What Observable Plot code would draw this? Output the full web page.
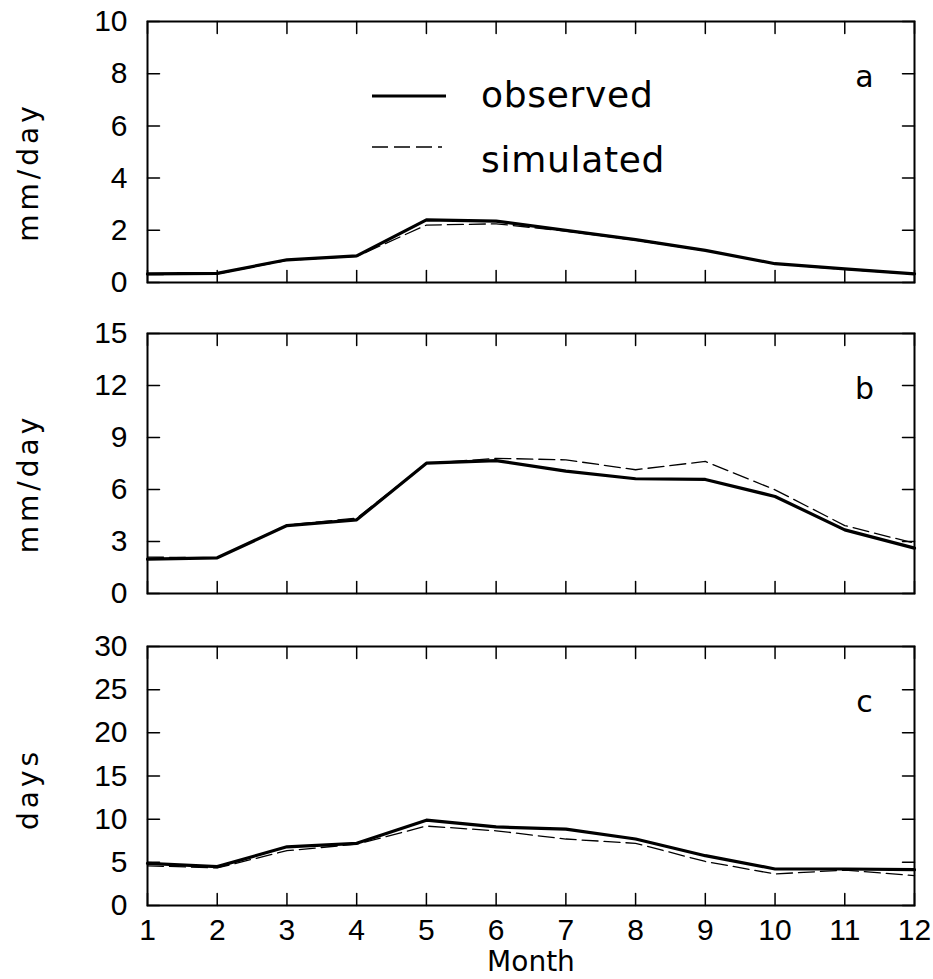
<!DOCTYPE html>
<html>
<head>
<meta charset="utf-8">
<script src="https://cdn.jsdelivr.net/npm/d3@7"></script>
<script src="https://cdn.jsdelivr.net/npm/@observablehq/plot@0.6"></script>
<style>
  html, body { margin: 0; padding: 0; background: #fff; }
  #chart { position: relative; width: 933px; height: 979px; background: #fff; }
  #chart > .panel { position: absolute; left: 0; }
  g[aria-label="y-axis tick label"] text, g[aria-label="x-axis tick label"] text { font-family: "Liberation Sans", Arial, sans-serif; }
</style>
</head>
<body>
<div id="chart"></div>
<script>
// ---- data ----
const months = [1, 2, 3, 4, 5, 6, 7, 8, 9, 10, 11, 12];
const seriesNames = ["observed", "simulated"];

const aObserved  = [0.33, 0.35, 0.87, 1.02, 2.40, 2.35, 2.00, 1.64, 1.23, 0.72, 0.52, 0.33];
const aSimulated = [0.30, 0.33, 0.85, 1.00, 2.20, 2.25, 1.97, 1.62, 1.22, 0.72, 0.50, 0.32];

const bObserved  = [1.98, 2.06, 3.92, 4.25, 7.52, 7.67, 7.06, 6.62, 6.58, 5.60, 3.67, 2.62];
const bSimulated = [2.10, 2.06, 3.95, 4.35, 7.50, 7.80, 7.71, 7.14, 7.62, 5.98, 3.92, 2.90];

const cObserved  = [4.88, 4.50, 6.80, 7.20, 9.88, 9.10, 8.85, 7.70, 5.77, 4.23, 4.23, 4.15];
const cSimulated = [4.60, 4.35, 6.35, 7.10, 9.20, 8.65, 7.70, 7.20, 5.10, 3.65, 4.10, 3.46];

const aTicks = [0, 2, 4, 6, 8, 10];
const bTicks = [0, 3, 6, 9, 12, 15];
const cTicks = [0, 5, 10, 15, 20, 25, 30];

const panelLetters = ["a", "b", "c"];
const yLabels = ["mm/day", "mm/day", "days"];
const xLabel = "Month";

// ---- drawing ----
const FONT = "DejaVu Sans, sans-serif";
const TICK = 12;
const tickShape = {draw(context, l) { context.moveTo(0, 0); context.lineTo(0, -l); }};

function inwardTicks(values, channel, frameAnchor, rotate) {
  return Plot.vector(values, {
    [channel]: d => d, frameAnchor, rotate, length: TICK, anchor: "start",
    shape: tickShape, stroke: "black", strokeWidth: 1.5
  });
}

function panel({obs, sim, ticks, letter, yLabel, showX, height, mt, mb, labelDy}) {
  const obsData = months.map((m, i) => ({month: m, value: obs[i]}));
  const simData = months.map((m, i) => ({month: m, value: sim[i]}));
  const marks = [
    Plot.frame({strokeWidth: 2}),
    // inward ticks on all four sides
    inwardTicks(ticks, "y", "left", 90),
    inwardTicks(ticks, "y", "right", -90),
    inwardTicks(months, "x", "top", 180),
    inwardTicks(months, "x", "bottom", 0),
    // tick labels
    Plot.axisY(ticks, {anchor: "left", tickSize: 0, tickPadding: 20, fontSize: 30, label: null}),
    ...(showX ? [Plot.axisX(months, {anchor: "bottom", tickSize: 0, tickPadding: 13, fontSize: 30, label: null})] : []),
    Plot.line(simData, {x: "month", y: "value", stroke: "black", strokeWidth: 1.3, strokeDasharray: "16,6"}),
    Plot.line(obsData, {x: "month", y: "value", stroke: "black", strokeWidth: 3.2}),
    Plot.text([letter], {frameAnchor: "top-right", dx: -50, dy: 56, lineAnchor: "middle", textAnchor: "middle", fontSize: 30, fill: "black"}),
    Plot.text([yLabel], {frameAnchor: "left", dx: -118, dy: labelDy, rotate: -90, textAnchor: "middle", lineAnchor: "middle", fontSize: 27, fill: "black"})
  ];
  const svg = Plot.plot({
    width: 933, height,
    marginLeft: 147, marginRight: 19, marginTop: mt, marginBottom: mb,
    style: {fontFamily: FONT, fontSize: "30px", color: "black", background: "white"},
    x: showX ? {domain: [1, 12]} : {domain: [1, 12], axis: null},
    y: {domain: [ticks[0], ticks[ticks.length - 1]]},
    marks
  });
  // spaced-out lettering for the vertical axis title
  d3.select(svg).selectAll("text").filter(function () { return this.textContent === yLabel; })
    .attr("letter-spacing", 4).attr("font-size", 28);
  return svg;
}

const chart = document.getElementById("chart");

const pa = panel({obs: aObserved, sim: aSimulated, ticks: aTicks, letter: panelLetters[0], yLabel: yLabels[0],
  showX: false, height: 312, mt: 21, mb: 30, labelDy: 20});
const pb = panel({obs: bObserved, sim: bSimulated, ticks: bTicks, letter: panelLetters[1], yLabel: yLabels[1],
  showX: false, height: 312, mt: 21, mb: 31, labelDy: 20});
const pc = panel({obs: cObserved, sim: cSimulated, ticks: cTicks, letter: panelLetters[2], yLabel: yLabels[2],
  showX: true, height: 355, mt: 22, mb: 74, labelDy: 13});

[[pa, 0], [pb, 312], [pc, 624]].forEach(([svg, top]) => {
  svg.classList.add("panel");
  svg.style.top = top + "px";
  chart.appendChild(svg);
});

// x-axis title and legend overlay
const ns = "http://www.w3.org/2000/svg";
const over = document.createElementNS(ns, "svg");
over.setAttribute("width", 933);
over.setAttribute("height", 979);
over.style.position = "absolute";
over.style.left = "0";
over.style.top = "0";
over.style.pointerEvents = "none";
over.innerHTML = `
  <text x="531" y="971" text-anchor="middle" font-family="${FONT}" font-size="28" fill="black">${xLabel}</text>
  <line x1="372" y1="96" x2="446" y2="96" stroke="black" stroke-width="3.2"/>
  <line x1="372" y1="147" x2="442" y2="147" stroke="black" stroke-width="1.3" stroke-dasharray="16,6"/>
  <text x="481" y="107" font-family="${FONT}" font-size="36" letter-spacing="0.7" fill="black">${seriesNames[0]}</text>
  <text x="481" y="172" font-family="${FONT}" font-size="36" letter-spacing="0.7" fill="black">${seriesNames[1]}</text>
`;
chart.appendChild(over);
</script>
</body>
</html>
